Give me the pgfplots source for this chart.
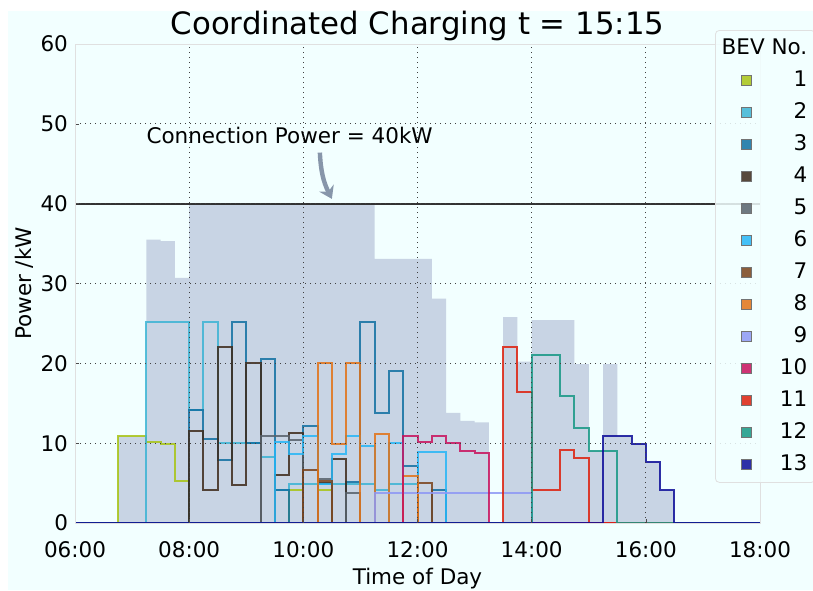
\documentclass[border=0pt]{standalone}
\usepackage{fontspec}
\setmainfont{DejaVu Sans}
\usepackage{pgfplots}
\pgfplotsset{compat=1.18}
\usetikzlibrary{arrows.meta}

\definecolor{bgc}{RGB}{242,255,255}
\definecolor{areac}{RGB}{200,212,228}
\definecolor{arrowc}{RGB}{135,150,170}
\definecolor{c1}{RGB}{168,196,20}
\definecolor{c2}{RGB}{60,180,212}
\definecolor{c3}{RGB}{16,112,162}
\definecolor{c4}{RGB}{62,42,26}
\definecolor{c5}{RGB}{88,98,108}
\definecolor{c6}{RGB}{38,182,246}
\definecolor{c7}{RGB}{122,66,26}
\definecolor{c8}{RGB}{226,114,22}
\definecolor{c9}{RGB}{142,152,245}
\definecolor{c10}{RGB}{200,16,92}
\definecolor{c11}{RGB}{222,32,12}
\definecolor{c12}{RGB}{22,152,132}
\definecolor{c13}{RGB}{12,12,152}

\pgfplotsset{
  sq/.style={legend image code/.code={\path (0pt,0pt); \draw[sharp corners, fill=#1, draw=black!55, line width=0.5pt] (9pt,-2.6pt) rectangle (14pt,2.6pt);}},
  ev/.style={const plot, line width=1pt, draw opacity=0.85, forget plot, #1},
}

\begin{document}
\begin{tikzpicture}
\fill[white] (-37.5pt,-33.5pt) rectangle (369pt,261.5pt);
\fill[bgc] (-33.5pt,-33.5pt) rectangle (369pt,256pt);
\begin{axis}[
    at={(0pt,0pt)}, anchor=south west,
    scale only axis, width=342.5pt, height=239.5pt,
    xmin=6, xmax=18, ymin=0, ymax=60,
    clip=false, axis on top,
    font=\fontsize{10.75}{12}\selectfont,
    axis background/.style={fill=bgc},
    axis line style={draw=black!12},
    xtick={6,8,10,12,14,16,18},
    xticklabels={06:00,08:00,10:00,12:00,14:00,16:00,18:00},
    ytick={0,10,20,30,40,50,60},
    /pgf/number format/assume math mode=true,
    tick align=inside, xtick pos=bottom, ytick pos=left,
    major tick length=2pt, tick style={black!70},
    xticklabel style={anchor=base, yshift=-17pt},
    grid=major,
    major grid style={black!75, line width=0.5pt, dash pattern=on 0.5pt off 2pt},
    title={Coordinated Charging t = 15:15},
    title style={at={(axis description cs:0.5,0.9958)}, anchor=base, font=\fontsize{15.4}{18}\selectfont},
    xlabel={Time of Day},
    xlabel style={at={(axis description cs:0.5,-0.1294)}, anchor=base},
    ylabel={Power /kW},
    ylabel style={at={(axis description cs:-0.0628,0.5)}, anchor=base},
    legend style={at={(0.9343,1.0292)}, anchor=north west,
      fill=bgc, fill opacity=0.85, text opacity=1, draw=black!12,
      rounded corners=2pt, inner sep=4pt, row sep=6pt, column sep=0pt,
      nodes={inner sep=0pt, text height=7.8pt, text depth=2.2pt},
      font=\fontsize{10.75}{12}\selectfont},
    legend cell align=left,
]
% aggregated power (sum of all vehicles)
\addplot[const plot, fill=areac, draw=none, forget plot] coordinates {
  (6,0) (6.75,10.9) (7.25,35.5) (7.5,35.3) (7.75,30.7) (8,40) (11.25,33.1)
  (12.25,28.1) (12.5,13.8) (12.75,12.8) (13,12.6) (13.25,0) (13.5,25.8)
  (13.75,20.2) (14,25.4) (14.75,19.9) (15,9.0) (15.25,19.9) (15.5,10.9)
  (15.75,9.9) (16,7.7) (16.25,4.1) (16.5,0) (18,0)} \closedcycle;

% individual BEVs
\addplot[ev=c1] coordinates {(6,0) (6.75,10.9) (7.25,10.1) (7.5,9.95) (7.75,5.2) (8,0)
  (9.75,4.1) (10,0) (10.25,4.1) (10.5,0) (18,0)};
\addplot[ev=c2] coordinates {(6,0) (7.25,25.2) (8,14.2) (8.25,25.2) (8.5,10.0) (9.25,8.3)
  (9.5,4.1) (9.75,4.9) (11.25,4.1) (11.5,4.9) (12,0) (18,0)};
\addplot[ev=c3] coordinates {(6,0) (8,14.2) (8.25,10.5) (8.5,7.9) (8.75,25.2) (9,10.0)
  (9.25,20.5) (9.5,4.1) (9.75,0) (10,12.2) (10.25,0) (10.75,5.1) (11,25.2)
  (11.25,13.8) (11.5,19.1) (11.75,7.2) (12,0) (12.25,4.1) (12.5,0) (18,0)};
\addplot[ev=c4] coordinates {(6,0) (8,11.5) (8.25,4.1) (8.5,22.0) (8.75,4.7) (9,20.0)
  (9.25,0) (9.5,6.0) (9.75,11.3) (10,0) (10.25,5.0) (10.5,8.0) (10.75,0) (18,0)};
\addplot[ev=c5] coordinates {(6,0) (9.25,10.9) (9.75,10.4) (10,0) (10.25,5.5) (10.5,0)
  (10.75,3.8) (11,0) (18,0)};
\addplot[ev=c6] coordinates {(6,0) (9.5,10.1) (9.75,8.7) (10,10.9) (10.25,4.9) (10.5,8.7)
  (10.75,10.9) (11,9.6) (11.25,0) (11.5,10.0) (11.75,0) (12,8.9) (12.5,0) (18,0)};
\addplot[ev=c7] coordinates {(6,0) (10,6.7) (10.25,5.2) (10.5,0) (12,5.0) (12.25,0) (18,0)};
\addplot[ev=c8] coordinates {(6,0) (10.25,20.0) (10.5,9.9) (10.75,20.0) (11,0) (11.25,11.1)
  (11.5,0) (11.75,5.9) (12,0) (18,0)};
\addplot[ev=c9] coordinates {(6,0) (11.25,3.7) (14,0) (18,0)};
\addplot[ev=c10] coordinates {(6,0) (11.75,10.9) (12,10.2) (12.25,10.9) (12.5,10.0)
  (12.75,9.0) (13,8.8) (13.25,0) (18,0)};
\addplot[ev=c11] coordinates {(6,0) (13.5,22.0) (13.75,16.4) (14,4.1) (14.5,9.15)
  (14.75,8.2) (15,0) (18,0)};
\addplot[ev=c12] coordinates {(6,0) (14,21.05) (14.5,15.9) (14.75,11.9) (15,9.0) (15.5,0) (18,0)};
\addplot[ev=c13] coordinates {(6,0) (15.25,10.9) (15.75,9.9) (16,7.7) (16.25,4.1) (16.5,0) (18,0)};

% connection power limit
\addplot[black!80, line width=1.1pt, forget plot] coordinates {(6,40) (18,40)};
\node at (axis cs:9.76,48.5) {Connection Power = 40kW};
\draw[arrowc, line width=2.2pt, -{Stealth[length=6pt,width=8pt]}]
  (axis cs:10.29,46.4) to[bend right=12] (axis cs:10.5,40.6);

% legend
\addlegendimage{empty legend}\addlegendentry{\makebox[27.5pt][r]{BEV No.}}
\addlegendimage{sq=c1}\addlegendentry{\makebox[27.5pt][r]{1}}
\addlegendimage{sq=c2}\addlegendentry{\makebox[27.5pt][r]{2}}
\addlegendimage{sq=c3}\addlegendentry{\makebox[27.5pt][r]{3}}
\addlegendimage{sq=c4}\addlegendentry{\makebox[27.5pt][r]{4}}
\addlegendimage{sq=c5}\addlegendentry{\makebox[27.5pt][r]{5}}
\addlegendimage{sq=c6}\addlegendentry{\makebox[27.5pt][r]{6}}
\addlegendimage{sq=c7}\addlegendentry{\makebox[27.5pt][r]{7}}
\addlegendimage{sq=c8}\addlegendentry{\makebox[27.5pt][r]{8}}
\addlegendimage{sq=c9}\addlegendentry{\makebox[27.5pt][r]{9}}
\addlegendimage{sq=c10}\addlegendentry{\makebox[27.5pt][r]{10}}
\addlegendimage{sq=c11}\addlegendentry{\makebox[27.5pt][r]{11}}
\addlegendimage{sq=c12}\addlegendentry{\makebox[27.5pt][r]{12}}
\addlegendimage{sq=c13}\addlegendentry{\makebox[27.5pt][r]{13}}
\end{axis}
\pgfresetboundingbox
\useasboundingbox (-37.5pt,-33.5pt) rectangle (369pt,261.5pt);
\end{tikzpicture}
\end{document}
